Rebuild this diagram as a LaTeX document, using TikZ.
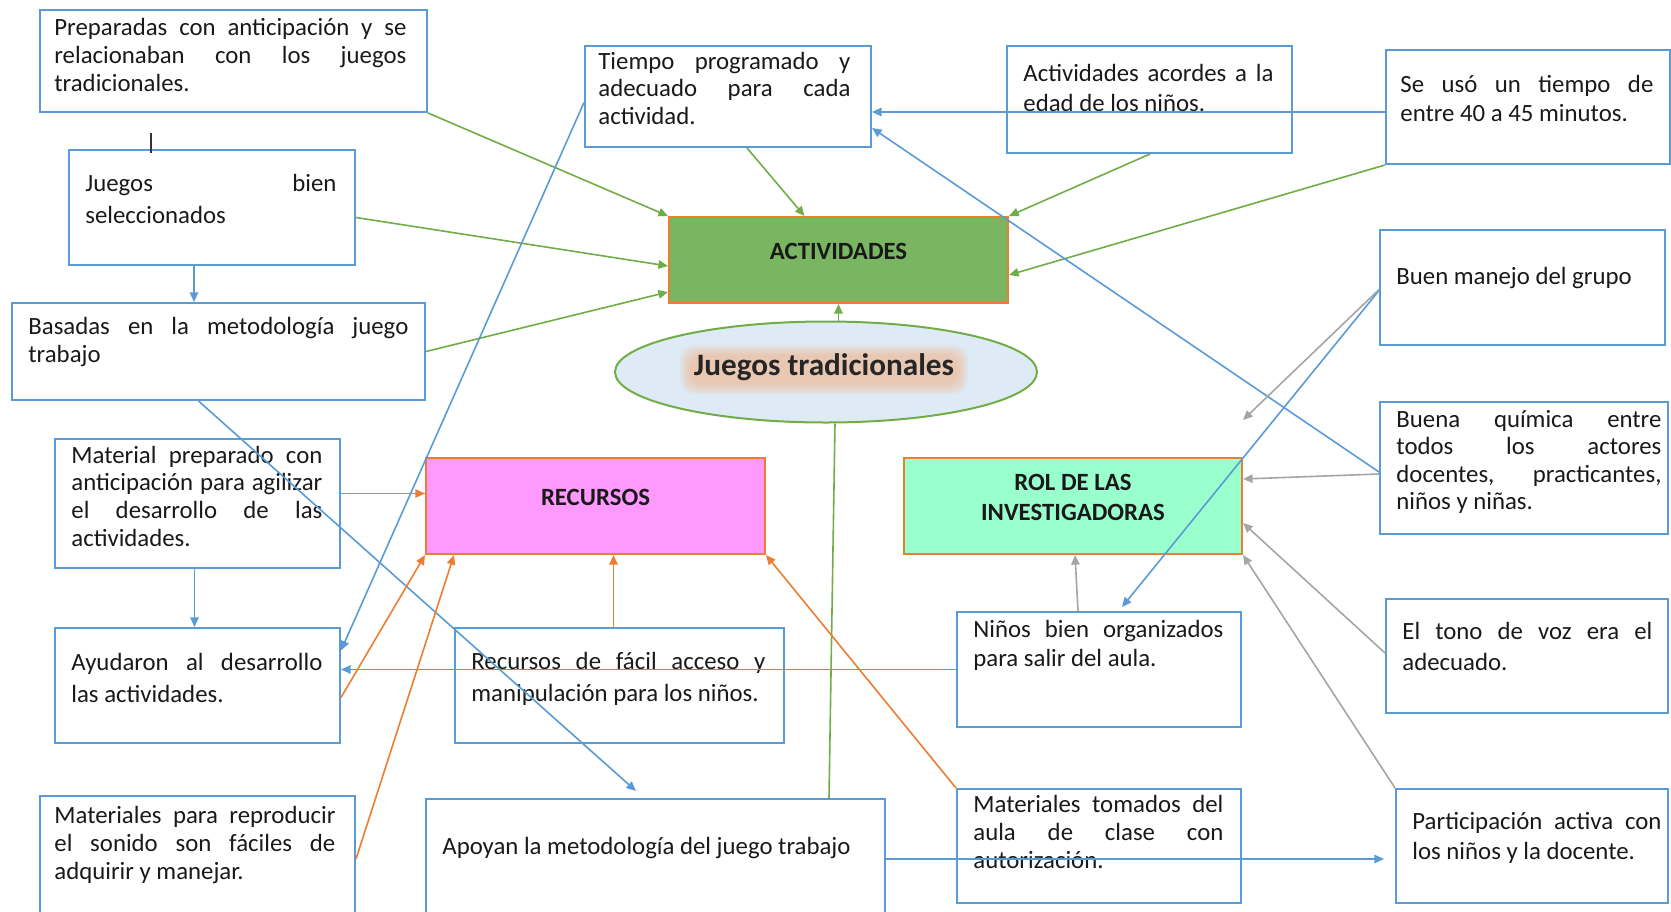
\documentclass[tikz,border=0pt]{standalone}
\usepackage{fontspec}
\setmainfont{Carlito}
\usetikzlibrary{calc, positioning, shapes.geometric, arrows.meta, fit}
\definecolor{boxblue}{RGB}{91,155,213}
\definecolor{lingreen}{RGB}{112,173,71}
\definecolor{actgreen}{RGB}{122,182,98}
\definecolor{borange}{RGB}{237,125,49}
\definecolor{recpink}{RGB}{255,153,255}
\definecolor{rolmint}{RGB}{153,255,204}
\definecolor{elblue}{RGB}{222,235,247}
\definecolor{lingray}{RGB}{165,165,165}
\definecolor{glowor}{RGB}{244,177,131}
\tikzset{
  cbx/.style={draw=boxblue, line width=1pt, inner sep=0pt},
  hbx/.style={draw=borange, line width=1pt, inner sep=0pt},
  txt/.style={anchor=base west, inner sep=0pt, align=justify, text=black!90, execute at begin node=\sloppy},
  ttl/.style={anchor=base, inner sep=0pt, align=center, text=black!90, font=\fontsize{12.4}{15}\selectfont\bfseries},
  tip/.style={-{Triangle[length=4.8pt,width=4.2pt]}},
  gl/.style={lingreen, line width=0.8pt, tip},
  bl/.style={boxblue, line width=0.8pt, tip},
  ol/.style={borange, line width=0.8pt, tip},
  al/.style={lingray, line width=0.8pt, tip}
}
% box with its text: name, corner, corner, text offset, text width, line skip, text
\newcommand\cbox[7]{\node[cbx, fit={(#2) (#3)}] (#1) {};
  \node[txt, text width=#5, font=\fontsize{12.4}{#6}\selectfont] (#1-t) at ($(#1.north west)+(#4)$) {#7};}

\begin{document}
\begin{tikzpicture}[x=0.5pt, y=-0.5pt]
\useasboundingbox (0,0) rectangle (1671,911);
\clip (0,0) rectangle (1671,911);

% left column
\cbox{prep}{40,10}{427,112}{15,26}{176pt}{14pt}{Preparadas con anticipación y se\linebreak relacionaban con los juegos\linebreak tradicionales.}
\cbox{jsel}{69,150}{355,265}{17,42}{125.5pt}{16pt}{Juegos bien\linebreak seleccionados}
\cbox{basa}{12,303}{425,400}{17,32}{190pt}{14pt}{Basadas en la metodología juego\linebreak trabajo}
\cbox{matprep}{55,439}{340,568}{17,25}{125.5pt}{13.85pt}{Material preparado con\linebreak anticipación para agilizar\linebreak el desarrollo de las\linebreak actividades.}
\cbox{ayud}{55,628}{340,743}{17,43}{125.5pt}{16pt}{Ayudaron al desarrollo\linebreak las actividades.}
\cbox{sonido}{40,796}{355,930}{15,28}{140.5pt}{14pt}{Materiales para reproducir\linebreak el sonido son fáciles de\linebreak adquirir y manejar.}

% middle
\cbox{tiem}{585,46}{871,147}{14,24}{126pt}{13.75pt}{Tiempo programado y\linebreak adecuado para cada\linebreak actividad.}
\cbox{acor}{1007,46}{1292,153}{17,36}{125pt}{15pt}{Actividades acordes a la\linebreak edad de los niños.}
\cbox{facil}{455,628}{784,743}{17,42}{147pt}{16pt}{Recursos de fácil acceso y\linebreak manipulación para los niños.}
\cbox{apoy}{426,799}{885,930}{17,56}{210pt}{14pt}{Apoyan la metodología del juego trabajo}
\cbox{ninos}{957,612}{1241,727}{17,26}{125pt}{14.5pt}{Niños bien organizados\linebreak para salir del aula.}
\cbox{tomad}{957,789}{1241,903}{17,24}{125pt}{14pt}{Materiales tomados del\linebreak aula de clase con\linebreak autorización.}

% right column
\cbox{seuso}{1386,50}{1670,164}{15,43}{126.5pt}{14.5pt}{Se usó un tiempo de\linebreak entre 40 a 45 minutos.}
\cbox{manejo}{1380,230}{1665,345}{17,55}{125pt}{14pt}{Buen manejo del grupo}
\cbox{quim}{1380,402}{1668,534}{17,26}{132.5pt}{13.75pt}{Buena química entre\linebreak todos los actores\linebreak docentes, practicantes,\linebreak niños y niñas.}
\cbox{tono}{1386,599}{1668,713}{17,41}{125pt}{15.5pt}{El tono de voz era el\linebreak adecuado.}
\cbox{part}{1396,789}{1668,903}{17,41}{124.5pt}{15pt}{Participación activa con\linebreak los niños y la docente.}

% main boxes
\node[hbx, fill=actgreen, fit={(669,217) (1008,303)}] (act) {};
\node[ttl] (act-t) at ($(act.north)+(0,43)$) {ACTIVIDADES};
\node[hbx, fill=recpink, fit={(426,458) (765,554)}] (rec) {};
\node[ttl] (rec-t) at ($(rec.north)+(0,48)$) {RECURSOS};
\node[hbx, fill=rolmint, fit={(904,458) (1242,554)}] (rol) {};
\node[ttl] (rol-t) at ($(rol.north)+(0,63)$) {ROL DE LAS\\INVESTIGADORAS};

% centre
\node[ellipse, draw=lingreen, line width=1pt, fill=elblue, minimum width=211pt, minimum height=50.5pt, inner sep=0pt] (jt) at (826,372) {};
\foreach \g in {0,...,5}
  \fill[glowor, opacity=0.13, rounded corners=7pt] ($(jt)+(-136-2*\g,-17-2*\g)$) rectangle ($(jt)+(132+2*\g,12+2*\g)$);
\node[anchor=base, inner sep=0pt, text=black!85, font=\fontsize{15.6}{18}\selectfont\bfseries] (jt-t) at ($(jt)+(-2,3)$) {Juegos tradicionales};

\draw[black!80, line width=1pt] (151,133) -- (151,153);

% green
\draw[gl] (prep.south east) -- (act.north west);
\draw[gl] ($(jsel.east)+(0,10)$) -- ($(act.west)+(0,6)$);
\draw[gl] (basa.east) -- ($(act.south west)+(0,-12)$);
\draw[gl] ($(tiem.south)+(19,0)$) -- ($(act.north)+(-34,0)$);
\draw[gl] ($(acor.south west)+(144,0)$) -- (act.north east);
\draw[gl] (seuso.south west) -- ($(act.east)+(0,15)$);
\draw[gl] (act.south |- jt.north) -- (act.south);
\draw[lingreen, line width=0.8pt] ($(jt.south)+(9,0)$) -- ($(apoy.north west)+(404,0)$);

% blue
\draw[bl] ($(jsel.south)+(-18,0)$) -- ($(jsel.south |- basa.north)+(-18,0)$);
\draw[bl] ($(matprep.south)+(-3,0)$) -- ($(matprep.south |- ayud.north)+(-3,0)$);
\draw[bl] ($(tiem.west)+(0,6)$) -- ($(ayud.east)+(0,-35)$);
\draw[bl] ($(seuso.west)+(0,5)$) coordinate (s1) -- (s1 -| tiem.east);
\draw[bl] ($(quim.west)+(0,4)$) -- ($(tiem.south east)+(0,-20)$);
\draw[bl] ($(manejo.west)+(0,3)$) -- ($(ninos.north)+(23,-4)$);
\draw[bl] (ninos.west) -- (ninos.west -| ayud.east);
\draw[bl] ($(basa.south)+(-20,0)$) -- ($(apoy.north west)+(211,-7)$);
\draw[bl] ($(apoy.north east)+(0,61)$) coordinate (a1) -- ($(a1 -| part.west)+(-11,0)$);

% orange
\draw[ol] ($(matprep.east)+(0,-10)$) coordinate (m1) -- (m1 -| rec.west);
\draw[ol] ($(ayud.east)+(0,12)$) -- (rec.south west);
\draw[ol] ($(sonido.north east)+(0,64)$) -- ($(rec.south west)+(29,0)$);
\draw[ol] ($(facil.north)+(-6,0)$) -- ($(rec.south)+(18,0)$);
\draw[ol] (tomad.north west) -- (rec.south east);

% gray
\draw[al] ($(manejo.west)+(0,2)$) -- ($(rol.north east)+(0,-37)$);
\draw[al] ($(quim.west)+(0,6)$) -- ($(rol.east)+(0,-27)$);
\draw[al] ($(tono.west)+(0,-3)$) -- ($(rol.south east)+(0,-32)$);
\draw[al] (part.north west) -- (rol.south east);
\draw[al] ($(ninos.north)+(-21,0)$) -- ($(rol.south)+(2,0)$);
\end{tikzpicture}
\end{document}
